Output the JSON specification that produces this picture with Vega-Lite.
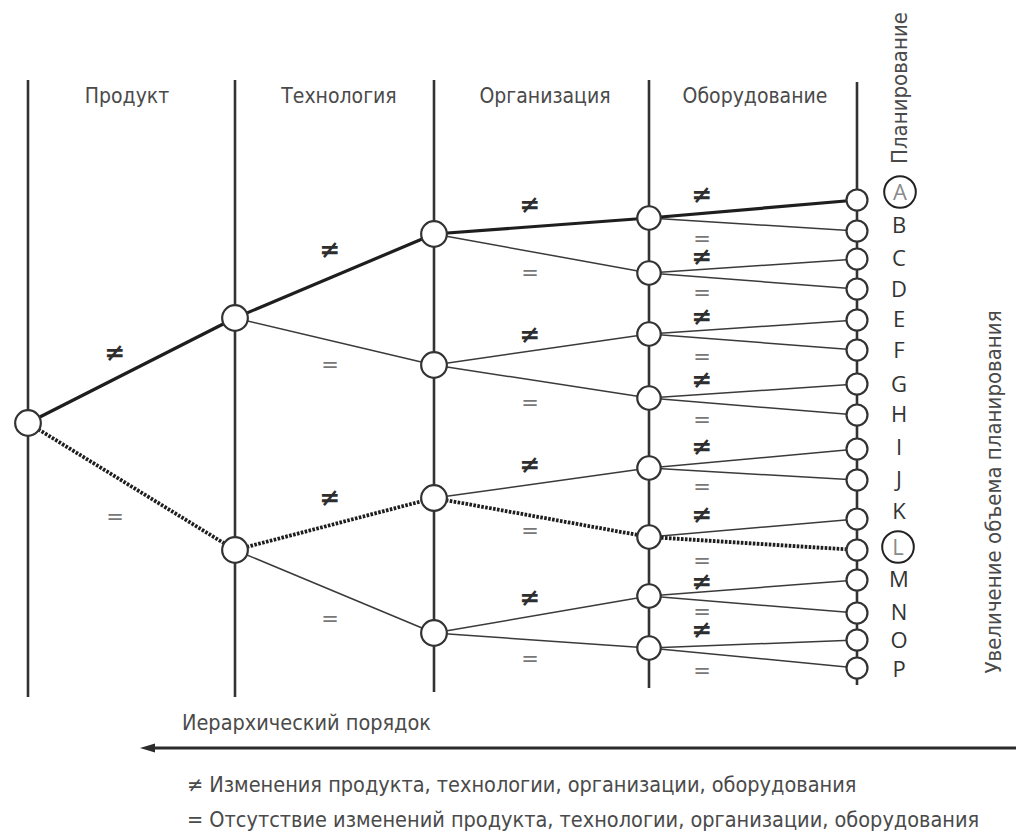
{
  "$schema": "https://vega.github.io/schema/vega-lite/v6.json",
  "width": 1016,
  "height": 832,
  "autosize": {"type": "none"},
  "padding": 0,
  "background": "white",
  "config": {"view": {"stroke": null}},
  "datasets": {
    "vlines": [
      {"x": 28, "y": 80, "y2": 697},
      {"x": 235, "y": 80, "y2": 697},
      {"x": 434, "y": 80, "y2": 692},
      {"x": 649, "y": 80, "y2": 688},
      {"x": 857, "y": 82, "y2": 685}
    ],
    "edges": [
      {"x": 28, "y": 423, "x2": 235, "y2": 318, "kind": "thick"},
      {"x": 28, "y": 423, "x2": 235, "y2": 550, "kind": "dotted"},
      {"x": 235, "y": 318, "x2": 434, "y2": 234, "kind": "thick"},
      {"x": 235, "y": 318, "x2": 434, "y2": 365, "kind": "thin"},
      {"x": 235, "y": 550, "x2": 434, "y2": 498, "kind": "dotted"},
      {"x": 235, "y": 550, "x2": 434, "y2": 633, "kind": "thin"},
      {"x": 434, "y": 234, "x2": 649, "y2": 218, "kind": "thick"},
      {"x": 434, "y": 234, "x2": 649, "y2": 273, "kind": "thin"},
      {"x": 434, "y": 365, "x2": 649, "y2": 334, "kind": "thin"},
      {"x": 434, "y": 365, "x2": 649, "y2": 398, "kind": "thin"},
      {"x": 434, "y": 498, "x2": 649, "y2": 468, "kind": "thin"},
      {"x": 434, "y": 498, "x2": 649, "y2": 537, "kind": "dotted"},
      {"x": 434, "y": 633, "x2": 649, "y2": 596, "kind": "thin"},
      {"x": 434, "y": 633, "x2": 649, "y2": 648, "kind": "thin"},
      {"x": 649, "y": 218, "x2": 857, "y2": 200, "kind": "thick"},
      {"x": 649, "y": 218, "x2": 857, "y2": 231, "kind": "thin"},
      {"x": 649, "y": 273, "x2": 857, "y2": 259, "kind": "thin"},
      {"x": 649, "y": 273, "x2": 857, "y2": 289, "kind": "thin"},
      {"x": 649, "y": 334, "x2": 857, "y2": 320, "kind": "thin"},
      {"x": 649, "y": 334, "x2": 857, "y2": 350, "kind": "thin"},
      {"x": 649, "y": 398, "x2": 857, "y2": 384, "kind": "thin"},
      {"x": 649, "y": 398, "x2": 857, "y2": 415, "kind": "thin"},
      {"x": 649, "y": 468, "x2": 857, "y2": 449, "kind": "thin"},
      {"x": 649, "y": 468, "x2": 857, "y2": 480, "kind": "thin"},
      {"x": 649, "y": 537, "x2": 857, "y2": 519, "kind": "thin"},
      {"x": 649, "y": 537, "x2": 857, "y2": 550, "kind": "dotted"},
      {"x": 649, "y": 596, "x2": 857, "y2": 580, "kind": "thin"},
      {"x": 649, "y": 596, "x2": 857, "y2": 613, "kind": "thin"},
      {"x": 649, "y": 648, "x2": 857, "y2": 640, "kind": "thin"},
      {"x": 649, "y": 648, "x2": 857, "y2": 668, "kind": "thin"}
    ],
    "nodes": [
      {"x": 28, "y": 423, "level": "big"},
      {"x": 235, "y": 318, "level": "big"},
      {"x": 235, "y": 550, "level": "big"},
      {"x": 434, "y": 234, "level": "big"},
      {"x": 434, "y": 365, "level": "big"},
      {"x": 434, "y": 498, "level": "big"},
      {"x": 434, "y": 633, "level": "big"},
      {"x": 649, "y": 218, "level": "mid"},
      {"x": 649, "y": 273, "level": "mid"},
      {"x": 649, "y": 334, "level": "mid"},
      {"x": 649, "y": 398, "level": "mid"},
      {"x": 649, "y": 468, "level": "mid"},
      {"x": 649, "y": 537, "level": "mid"},
      {"x": 649, "y": 596, "level": "mid"},
      {"x": 649, "y": 648, "level": "mid"},
      {"x": 857, "y": 200, "level": "leaf"},
      {"x": 857, "y": 231, "level": "leaf"},
      {"x": 857, "y": 259, "level": "leaf"},
      {"x": 857, "y": 289, "level": "leaf"},
      {"x": 857, "y": 320, "level": "leaf"},
      {"x": 857, "y": 350, "level": "leaf"},
      {"x": 857, "y": 384, "level": "leaf"},
      {"x": 857, "y": 415, "level": "leaf"},
      {"x": 857, "y": 449, "level": "leaf"},
      {"x": 857, "y": 480, "level": "leaf"},
      {"x": 857, "y": 519, "level": "leaf"},
      {"x": 857, "y": 550, "level": "leaf"},
      {"x": 857, "y": 580, "level": "leaf"},
      {"x": 857, "y": 613, "level": "leaf"},
      {"x": 857, "y": 640, "level": "leaf"},
      {"x": 857, "y": 668, "level": "leaf"}
    ],
    "signs": [
      {"x": 115, "y": 353, "sign": "≠"},
      {"x": 115, "y": 518, "sign": "="},
      {"x": 330, "y": 250, "sign": "≠"},
      {"x": 330, "y": 366, "sign": "="},
      {"x": 330, "y": 498, "sign": "≠"},
      {"x": 330, "y": 620, "sign": "="},
      {"x": 530, "y": 205, "sign": "≠"},
      {"x": 530, "y": 274, "sign": "="},
      {"x": 530, "y": 335, "sign": "≠"},
      {"x": 530, "y": 404, "sign": "="},
      {"x": 530, "y": 465, "sign": "≠"},
      {"x": 530, "y": 532, "sign": "="},
      {"x": 530, "y": 598, "sign": "≠"},
      {"x": 530, "y": 660, "sign": "="},
      {"x": 702, "y": 195, "sign": "≠"},
      {"x": 702, "y": 240, "sign": "="},
      {"x": 702, "y": 257, "sign": "≠"},
      {"x": 702, "y": 294, "sign": "="},
      {"x": 702, "y": 317, "sign": "≠"},
      {"x": 702, "y": 358, "sign": "="},
      {"x": 702, "y": 380, "sign": "≠"},
      {"x": 702, "y": 421, "sign": "="},
      {"x": 702, "y": 447, "sign": "≠"},
      {"x": 702, "y": 488, "sign": "="},
      {"x": 702, "y": 515, "sign": "≠"},
      {"x": 702, "y": 562, "sign": "="},
      {"x": 702, "y": 582, "sign": "≠"},
      {"x": 702, "y": 613, "sign": "="},
      {"x": 702, "y": 630, "sign": "≠"},
      {"x": 702, "y": 672, "sign": "="}
    ],
    "letters": [
      {"x": 900, "y": 193, "letter": "A", "hl": "yes"},
      {"x": 899, "y": 226, "letter": "B", "hl": "no"},
      {"x": 899, "y": 259, "letter": "C", "hl": "no"},
      {"x": 899, "y": 290, "letter": "D", "hl": "no"},
      {"x": 899, "y": 320, "letter": "E", "hl": "no"},
      {"x": 899, "y": 351, "letter": "F", "hl": "no"},
      {"x": 899, "y": 385, "letter": "G", "hl": "no"},
      {"x": 899, "y": 415, "letter": "H", "hl": "no"},
      {"x": 899, "y": 448, "letter": "I", "hl": "no"},
      {"x": 899, "y": 480, "letter": "J", "hl": "no"},
      {"x": 899, "y": 512, "letter": "K", "hl": "no"},
      {"x": 898, "y": 548, "letter": "L", "hl": "yes"},
      {"x": 899, "y": 580, "letter": "M", "hl": "no"},
      {"x": 899, "y": 613, "letter": "N", "hl": "no"},
      {"x": 899, "y": 641, "letter": "O", "hl": "no"},
      {"x": 899, "y": 670, "letter": "P", "hl": "no"}
    ],
    "rings": [
      {"x": 900, "y": 192},
      {"x": 898, "y": 547}
    ],
    "headers": [
      {"x": 127, "y": 103, "text": "Продукт"},
      {"x": 339, "y": 103, "text": "Технология"},
      {"x": 545, "y": 103, "text": "Организация"},
      {"x": 755, "y": 103, "text": "Оборудование"}
    ],
    "plan": [{"x": 900, "y": 88, "text": "Планирование"}],
    "side": [{"x": 994, "y": 492, "text": "Увеличение объема планирования"}],
    "arrow": [{"x": 147, "x2": 1016, "y": 748}],
    "arrowhead": [{"x": 147.5, "y": 748}],
    "notes": [
      {"x": 182, "y": 730, "text": "Иерархический порядок"},
      {"x": 187, "y": 792, "text": "≠ Изменения продукта, технологии, организации, оборудования"},
      {"x": 187, "y": 827, "text": "= Отсутствие изменений продукта, технологии, организации, оборудования"}
    ]
  },
  "encoding": {
    "x": {"field": "x", "type": "quantitative", "scale": {"domain": [0, 1016], "nice": false, "zero": false}, "axis": null},
    "y": {"field": "y", "type": "quantitative", "scale": {"domain": [0, 832], "nice": false, "zero": false, "reverse": true}, "axis": null}
  },
  "layer": [
    {
      "data": {"name": "vlines"},
      "mark": {"type": "rule", "stroke": "#333333", "strokeWidth": 2.6},
      "encoding": {"y2": {"field": "y2"}}
    },
    {
      "data": {"name": "edges"},
      "transform": [{"filter": "datum.kind === 'thin'"}],
      "mark": {"type": "rule", "stroke": "#3a3a3a", "strokeWidth": 1.5},
      "encoding": {"x2": {"field": "x2"}, "y2": {"field": "y2"}}
    },
    {
      "data": {"name": "edges"},
      "transform": [{"filter": "datum.kind === 'thick'"}],
      "mark": {"type": "rule", "stroke": "#1e1e1e", "strokeWidth": 3.2},
      "encoding": {"x2": {"field": "x2"}, "y2": {"field": "y2"}}
    },
    {
      "data": {"name": "edges"},
      "transform": [{"filter": "datum.kind === 'dotted'"}],
      "mark": {"type": "rule", "stroke": "#1e1e1e", "strokeWidth": 3.8, "strokeDash": [2.6, 1.4]},
      "encoding": {"x2": {"field": "x2"}, "y2": {"field": "y2"}}
    },
    {
      "data": {"name": "nodes"},
      "mark": {"type": "point", "shape": "circle", "filled": true, "fill": "white", "stroke": "#333333", "opacity": 1},
      "encoding": {
        "size": {"field": "level", "type": "nominal", "scale": {"domain": ["big", "mid", "leaf"], "range": [660, 440, 80]}, "legend": null},
        "strokeWidth": {"field": "level", "type": "nominal", "scale": {"domain": ["big", "mid", "leaf"], "range": [2.2, 2.2, 1.6]}, "legend": null}
      }
    },
    {
      "data": {"name": "signs"},
      "transform": [{"filter": "datum.sign === '≠'"}],
      "mark": {"type": "text", "font": "DejaVu Sans", "fontSize": 25, "fontWeight": "bold", "baseline": "middle", "align": "center", "color": "#2e2e2e"},
      "encoding": {"text": {"field": "sign"}}
    },
    {
      "data": {"name": "signs"},
      "transform": [{"filter": "datum.sign === '='"}],
      "mark": {"type": "text", "font": "DejaVu Sans", "fontSize": 21, "baseline": "middle", "align": "center", "color": "#777777"},
      "encoding": {"text": {"field": "sign"}}
    },
    {
      "data": {"name": "rings"},
      "mark": {"type": "point", "shape": "circle", "filled": false, "stroke": "#222222", "strokeWidth": 2, "size": 1000, "opacity": 1}
    },
    {
      "data": {"name": "letters"},
      "mark": {"type": "text", "font": "Open Sans", "fontSize": 22, "baseline": "middle", "align": "center"},
      "encoding": {
        "text": {"field": "letter"},
        "color": {"field": "hl", "type": "nominal", "scale": {"domain": ["no", "yes"], "range": ["#333333", "#8a8a8a"]}, "legend": null}
      }
    },
    {
      "data": {"name": "headers"},
      "mark": {"type": "text", "font": "Liberation Sans Narrow, DejaVu Sans Condensed, sans-serif", "fontSize": 21, "baseline": "alphabetic", "align": "center", "color": "#4a4a4a"},
      "encoding": {"text": {"field": "text"}}
    },
    {
      "data": {"name": "plan"},
      "mark": {"type": "text", "font": "Liberation Sans Narrow, DejaVu Sans Condensed, sans-serif", "fontSize": 22, "baseline": "middle", "align": "center", "angle": 270, "color": "#4a4a4a"},
      "encoding": {"text": {"field": "text"}}
    },
    {
      "data": {"name": "side"},
      "mark": {"type": "text", "font": "Liberation Sans Narrow, DejaVu Sans Condensed, sans-serif", "fontSize": 22, "baseline": "middle", "align": "center", "angle": 270, "color": "#4a4a4a"},
      "encoding": {"text": {"field": "text"}}
    },
    {
      "data": {"name": "arrow"},
      "mark": {"type": "rule", "stroke": "#2b2b2b", "strokeWidth": 3},
      "encoding": {"x2": {"field": "x2"}}
    },
    {
      "data": {"name": "arrowhead"},
      "mark": {"type": "point", "shape": "M -1 0 L 1 -0.6 L 1 0.6 Z", "filled": true, "fill": "#2b2b2b", "stroke": null, "size": 225, "opacity": 1}
    },
    {
      "data": {"name": "notes"},
      "mark": {"type": "text", "font": "Liberation Sans Narrow, DejaVu Sans Condensed, sans-serif", "fontSize": 21.5, "baseline": "alphabetic", "align": "left", "color": "#4a4a4a"},
      "encoding": {"text": {"field": "text"}}
    }
  ]
}
